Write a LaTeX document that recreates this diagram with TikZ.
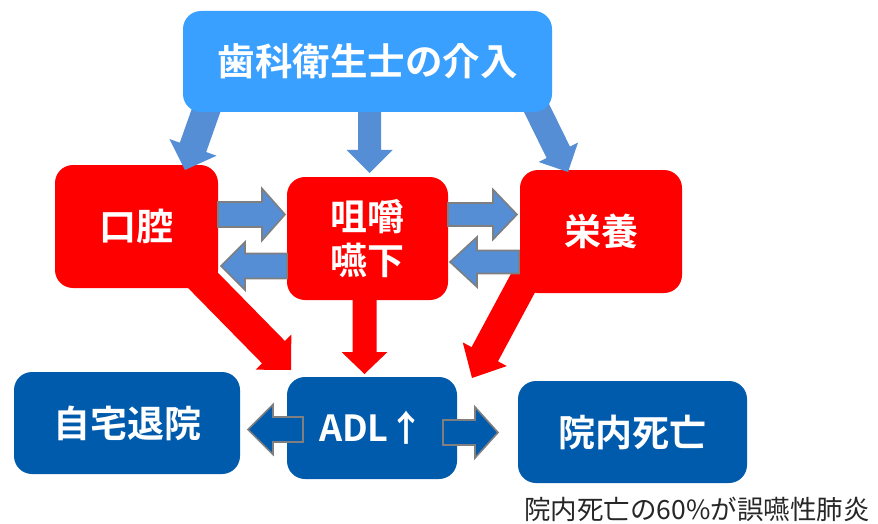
\documentclass[tikz,border=0pt]{standalone}
\usepackage{fontspec}
\setmainfont{Noto Sans CJK JP}[BoldFont={Noto Sans CJK JP Bold}]
\usetikzlibrary{calc}
\definecolor{topblue}{HTML}{3AA0FF}
\definecolor{boxred}{HTML}{FF0000}
\definecolor{darkblue}{HTML}{005BAC}
\definecolor{arrowblue}{HTML}{558ED5}
\definecolor{outlinegray}{HTML}{7F7F7F}
\definecolor{captiongray}{HTML}{262626}
\newcommand{\blockarrow}[6][]{%
  \coordinate (hb) at ($(#3)!#6!(#2)$);
  \path[#1] ($(#2)!#4!90:(#3)$) -- ($(hb)!#4!90:(#3)$) -- ($(hb)!#5!90:(#3)$) -- (#3)
    -- ($(hb)!#5!-90:(#3)$) -- ($(hb)!#4!-90:(#3)$) -- ($(#2)!#4!-90:(#3)$) -- cycle;
}
\tikzset{
  box/.style={rounded corners=18pt, inner sep=0pt, text=white, font=\bfseries\fontsize{37}{44}\selectfont, align=center},
  redbox/.style={box, fill=boxred},
  darkbox/.style={box, fill=darkblue},
  topbox/.style={box, fill=topblue, font=\bfseries\fontsize{37.5}{44}\selectfont},
  redarrow/.style={fill=boxred},
  toparrow/.style={fill=arrowblue},
  sidearrow/.style={fill=arrowblue, draw=outlinegray, line width=1.6pt, line join=miter},
  adlarrow/.style={fill=darkblue, draw=outlinegray, line width=1.6pt, line join=miter},
}
\begin{document}
\begin{tikzpicture}[x=1pt, y=-1pt]
\useasboundingbox (0,0) rectangle (878,524);
% boxes
\node[redbox, minimum width=163pt, minimum height=123pt] (oral) at (136.5,226.5) {口腔};
\node[redbox, minimum width=161pt, minimum height=123pt] (swallow) at (367.5,238.5) {咀嚼\\嚥下};
\node[redbox, minimum width=162pt, minimum height=123pt] (nutr) at (601,231.5) {栄養};
\node[darkbox, minimum width=226pt, minimum height=102pt] (home) at (127,423) {自宅退院};
\node[darkbox, minimum width=170pt, minimum height=102pt, font=\bfseries\fontsize{36}{44}\selectfont] (adl) at (372,428) {ADL↑};
\node[darkbox, minimum width=229pt, minimum height=102pt] (death) at (632.5,432) {院内死亡};
% red arrows
\coordinate (r1s) at (185,262);
\coordinate (r1t) at (291,370);
\coordinate (r2s) at (364.5,290);
\coordinate (r2t) at (364.5,374);
\coordinate (r3s) at (530,270);
\coordinate (r3t) at (472,378);
\blockarrow[redarrow]{r1s}{r1t}{16pt}{25pt}{25pt}
\blockarrow[redarrow]{r2s}{r2t}{12pt}{23pt}{22pt}
\blockarrow[redarrow]{r3s}{r3t}{15pt}{25pt}{27pt}
% top arrows
\coordinate (t1s) at (208,105);
\coordinate (t1t) at (185,170);
\coordinate (t2s) at (369.5,105);
\coordinate (t2t) at (369.5,173);
\coordinate (t3s) at (535,105);
\coordinate (t3t) at (568,172);
\blockarrow[toparrow]{t1s}{t1t}{14pt}{25pt}{24pt}
\blockarrow[toparrow]{t2s}{t2t}{11.5pt}{23pt}{23pt}
\blockarrow[toparrow]{t3s}{t3t}{13pt}{22pt}{22pt}
\node[topbox, minimum width=369pt, minimum height=101pt] (dh) at (367.5,61.5) {歯科衛生士の介入};
% side arrows
\coordinate (a1s) at (218,214.5);
\coordinate (a1t) at (285,214.5);
\coordinate (a2s) at (287,266);
\coordinate (a2t) at (221,266);
\coordinate (a3s) at (448,214.5);
\coordinate (a3t) at (517,214.5);
\coordinate (a4s) at (519,262);
\coordinate (a4t) at (450,262);
\blockarrow[sidearrow]{a1s}{a1t}{12.5pt}{26pt}{23pt}
\blockarrow[sidearrow]{a2s}{a2t}{12.5pt}{24pt}{24pt}
\blockarrow[sidearrow]{a3s}{a3t}{11.5pt}{25pt}{24pt}
\blockarrow[sidearrow]{a4s}{a4t}{11.5pt}{25pt}{27pt}
% ADL arrows
\coordinate (b1s) at (303,429.5);
\coordinate (b1t) at (248,429.5);
\coordinate (b2s) at (443,432.5);
\coordinate (b2t) at (498,432.5);
\blockarrow[adlarrow]{b1s}{b1t}{12.5pt}{25pt}{25pt}
\blockarrow[adlarrow]{b2s}{b2t}{12.5pt}{25.5pt}{23pt}
% caption
\node[anchor=east, text=captiongray, font=\fontsize{26.5}{30}\selectfont, inner sep=0pt] (cap) at (870,509) {院内死亡の60\%が誤嚥性肺炎};
\end{tikzpicture}
\end{document}
